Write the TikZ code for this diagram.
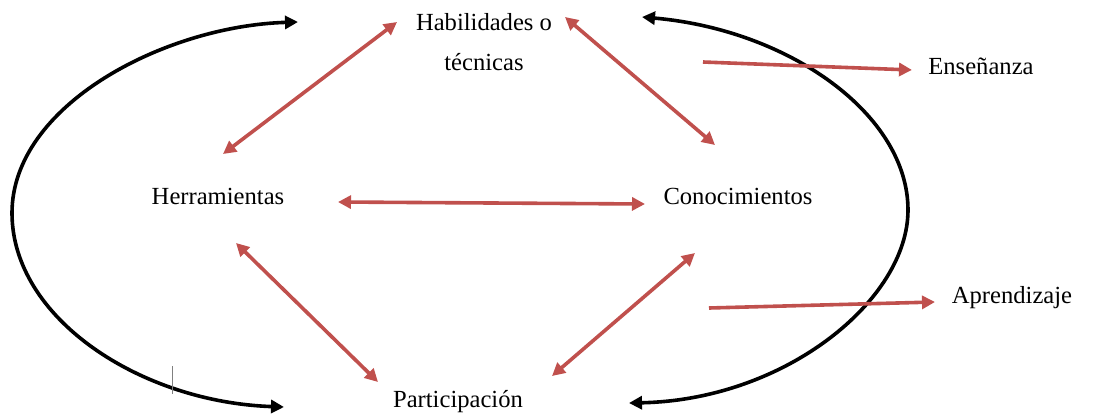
\documentclass[tikz,border=0pt]{standalone}
\usepackage{fontspec}
\setmainfont{Liberation Serif}
\usetikzlibrary{arrows.meta}
\begin{document}
\begin{tikzpicture}[x=0.5pt,y=-0.5pt,
  lbl/.style={font=\fontsize{12.3}{14.8}\selectfont, inner sep=0pt, align=center},
  redarrow/.style={draw={rgb,255:red,192;green,80;blue,77}, line width=1.8pt,
     {Triangle[length=6.5pt,width=6.5pt]}-{Triangle[length=6.5pt,width=6.5pt]}},
  redone/.style={draw={rgb,255:red,192;green,80;blue,77}, line width=1.8pt,
     -{Triangle[length=6.5pt,width=6.5pt]}},
  cycle/.style={draw=black, line width=1.8pt,
     {Triangle[length=6.5pt,width=6.5pt]}-{Triangle[length=6.5pt,width=6.5pt]}}]
\useasboundingbox (0,0) rectangle (1100,418);
% labels
\node[lbl] (hab) at (484,42) {Habilidades o\\[5pt]técnicas};
\node[lbl] (her) at (218,196) {Herramientas};
\node[lbl] (con) at (738,196) {Conocimientos};
\node[lbl] (par) at (458,402) {Participación};
\node[lbl] (ens) at (981,66) {Enseñanza};
\node[lbl] (apr) at (1012,298) {Aprendizaje};
% endpoints
\coordinate (habL) at (397,22);
\coordinate (herT) at (223,154);
\coordinate (habR) at (565,17);
\coordinate (conT) at (715,145);
\coordinate (herR) at (338,202);
\coordinate (conL) at (645,204);
\coordinate (herB) at (236,243);
\coordinate (parL) at (378,382);
\coordinate (parR) at (552,376);
\coordinate (conB) at (695,253);
\coordinate (ensS) at (703,62);
\coordinate (ensE) at (912,70);
\coordinate (aprS) at (709,308);
\coordinate (aprE) at (935,302);
\coordinate (lT) at (298,22);
\coordinate (lM) at (12,213);
\coordinate (lB) at (284,407);
\coordinate (rT) at (642,17);
\coordinate (rM) at (908,210);
\coordinate (rB) at (629,403);
\coordinate (tickA) at (172,366);
\coordinate (tickB) at (172,394);
% black cycles
\draw[cycle] (lT) .. controls (165,26) and (12,105) .. (lM) .. controls (12,318) and (140,402) .. (lB);
\draw[cycle] (rT) .. controls (790,30) and (908,115) .. (rM) .. controls (908,300) and (785,400) .. (rB);
% red relations
\draw[redarrow] (habL) -- (herT);
\draw[redarrow] (habR) -- (conT);
\draw[redarrow] (herR) -- (conL);
\draw[redarrow] (herB) -- (parL);
\draw[redarrow] (parR) -- (conB);
\draw[redone] (ensS) -- (ensE);
\draw[redone] (aprS) -- (aprE);
% tick mark
\draw[gray, line width=0.5pt] (tickA) -- (tickB);
\end{tikzpicture}
\end{document}
